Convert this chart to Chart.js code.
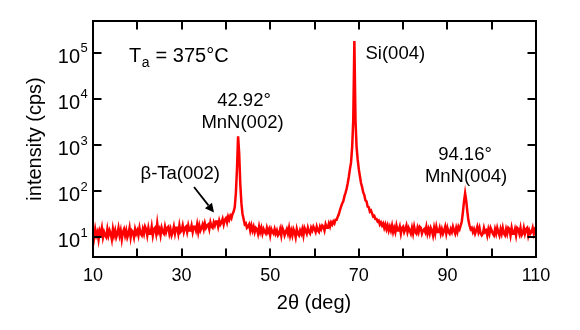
<!DOCTYPE html>
<html>
<head>
<meta charset="utf-8">
<script src="https://cdn.jsdelivr.net/npm/chart.js@4/dist/chart.umd.min.js"></script>
<style>
html,body{margin:0;padding:0;background:#fff;}
#wrap{width:580px;height:330px;position:relative;}
</style>
</head>
<body>
<div id="wrap"><canvas id="c" width="580" height="330"></canvas></div>
<script>
// 2theta sampling grid (deg)
const twoThetaStart = 10;
const twoThetaStep = 0.25;
// measured intensity (cps), one value per grid point, 10 .. 110 deg
const intensity = [
/*10*/ 14,10,15,11, /*11*/ 13,9,14,12, /*12*/ 16,10,13,11, /*13*/ 10,15,11,14,
/*14*/ 12,9,15,11, /*15*/ 14,10,12,16, /*16*/ 11,14,9,13, /*17*/ 15,11,14,10,
/*18*/ 12,16,10,14, /*19*/ 13,10,15,12, /*20*/ 14,11,16,12, /*21*/ 11,15,12,17,
/*22*/ 15,11,16,12, /*23*/ 12,17,11,15, /*24*/ 16,12,20,13, /*25*/ 15,11,16,13,
/*26*/ 12,17,13,16, /*27*/ 17,12,15,11, /*28*/ 13,17,12,16, /*29*/ 16,12,18,13,
/*30*/ 14,18,13,16, /*31*/ 17,13,18,14, /*32*/ 14,18,13,17, /*33*/ 17,14,19,13,
/*34*/ 18,14,16,19, /*35*/ 15,20,16,18, /*36*/ 19,15,21,17, /*37*/ 16,21,18,22,
/*38*/ 22,17,23,19, /*39*/ 21,25,19,24, /*40*/ 26,21,28,24, /*41*/ 29,26,32,36,
/*42*/ 45,90,300,1550, /*43*/ 650,140,55,32, /*44*/ 25,19,20,16, /*45*/ 17,19,14,18,
/*46*/ 14,17,13,16, /*47*/ 15,12,17,13, /*48*/ 16,12,15,13, /*49*/ 12,16,13,15,
/*50*/ 11,15,13,12, /*51*/ 15,12,14,11, /*52*/ 12,15,11,16, /*53*/ 14,11,13,15,
/*54*/ 12,16,11,14, /*55*/ 11,15,13,10, /*56*/ 15,12,11,14, /*57*/ 12,15,11,16,
/*58*/ 14,12,16,13, /*59*/ 12,16,14,17, /*60*/ 15,13,17,14, /*61*/ 13,17,15,18,
/*62*/ 17,14,19,16, /*63*/ 16,20,17,21, /*64*/ 19,22,20,24, /*65*/ 24,28,32,39,
/*66*/ 46,54,60,77, /*67*/ 92,113,148,205, /*68*/ 300,420,900,3500, /*69*/ 180000,3500,900,480,
/*70*/ 300,210,150,122, /*71*/ 94,82,63,60, /*72*/ 46,45,36,38, /*73*/ 33,28,29,25,
/*74*/ 25,22,23,19, /*75*/ 21,18,20,16, /*76*/ 19,15,18,14, /*77*/ 17,14,18,13,
/*78*/ 16,13,18,14, /*79*/ 14,17,12,16, /*80*/ 17,13,15,18, /*81*/ 13,16,14,12,
/*82*/ 16,12,17,13, /*83*/ 12,16,13,17, /*84*/ 16,12,14,15, /*85*/ 13,17,12,15,
/*86*/ 12,16,14,11, /*87*/ 16,12,17,13, /*88*/ 13,16,12,15, /*89*/ 12,14,17,12,
/*90*/ 16,13,12,15, /*91*/ 13,17,14,12, /*92*/ 16,13,17,15, /*93*/ 18,22,35,60,
/*94*/ 90,62,36,23, /*95*/ 18,15,16,13, /*96*/ 15,12,14,17, /*97*/ 13,16,12,11,
/*98*/ 12,16,13,14, /*99*/ 11,15,12,16, /*100*/ 14,12,11,15, /*101*/ 12,16,13,11,
/*102*/ 15,12,16,12, /*103*/ 11,15,12,16, /*104*/ 15,11,16,12, /*105*/ 12,15,11,16,
/*106*/ 15,12,16,11, /*107*/ 12,16,12,15, /*108*/ 16,11,14,12, /*109*/ 13,16,12,15,
/*110*/ 14
];
const xTickLabels = ['10','30','50','70','90','110'];
const xTickValues = [10,30,50,70,90,110];
const xMinorTicks = [20,40,60,80,100];
const yDecadeExponents = ['1','2','3','4','5'];

const points = intensity.map((v,i)=>({x: twoThetaStart + i*twoThetaStep, y: v}));

const FONT = '"Liberation Sans", Arial, Helvetica, sans-serif';

const framePlugin = {
  id: 'frame',
  afterDraw(chart){
    const ctx = chart.ctx, a = chart.chartArea;
    const xs = chart.scales.x, ys = chart.scales.y;
    ctx.save();
    ctx.strokeStyle = '#000';
    ctx.lineWidth = 2;
    ctx.strokeRect(a.left, a.top, a.right-a.left, a.bottom-a.top);
    const tl = 8.5;
    ctx.beginPath();
    [...xTickValues, ...xMinorTicks].forEach(v=>{
      const px = Math.round(xs.getPixelForValue(v));
      ctx.moveTo(px, a.bottom); ctx.lineTo(px, a.bottom - tl);
      ctx.moveTo(px, a.top); ctx.lineTo(px, a.top + tl);
    });
    yDecadeExponents.forEach(e=>{
      const py = Math.round(ys.getPixelForValue(Math.pow(10, +e)));
      ctx.moveTo(a.left, py); ctx.lineTo(a.left + tl, py);
      ctx.moveTo(a.right, py); ctx.lineTo(a.right - tl, py);
    });
    ctx.stroke();

    ctx.fillStyle = '#000';
    // x tick labels
    ctx.font = '18px ' + FONT;
    ctx.textAlign = 'center';
    ctx.textBaseline = 'alphabetic';
    xTickValues.forEach((v,i)=>{
      ctx.fillText(xTickLabels[i], xs.getPixelForValue(v), a.bottom + 24);
    });
    // y tick labels 10^n
    yDecadeExponents.forEach(e=>{
      const py = ys.getPixelForValue(Math.pow(10, +e));
      ctx.font = '20px ' + FONT;
      ctx.textAlign = 'right';
      ctx.fillText('10', 80, py + 10);
      ctx.font = '13px ' + FONT;
      ctx.textAlign = 'left';
      ctx.fillText(e, 80.5, py - 0.5);
    });
    // axis titles
    ctx.font = '20px ' + FONT;
    ctx.textAlign = 'center';
    ctx.fillText('2\u03b8 (deg)', 314, 309);
    ctx.save();
    ctx.translate(41, (a.top + a.bottom)/2);
    ctx.rotate(-Math.PI/2);
    ctx.fillText('intensity (cps)', 0, 0);
    ctx.restore();

    // annotations
    ctx.textAlign = 'left';
    ctx.font = '20px ' + FONT;
    ctx.fillText('T', 129, 61.5);
    let w = ctx.measureText('T').width;
    ctx.font = '14px ' + FONT;
    ctx.fillText('a', 129 + w + 0.5, 67);
    let w2 = ctx.measureText('a').width;
    ctx.font = '20px ' + FONT;
    ctx.fillText(' = 375\u00b0C', 129 + w + w2 + 1, 61.5);

    ctx.font = '18.5px ' + FONT;
    ctx.fillText('Si(004)', 365.5, 58.5);
    ctx.fillText('\u03b2-Ta(002)', 140.5, 179);
    ctx.textAlign = 'center';
    ctx.fillText('42.92\u00b0', 244, 106);
    ctx.fillText('MnN(002)', 242.5, 127.5);
    ctx.fillText('94.16\u00b0', 465, 160);
    ctx.fillText('MnN(004)', 466, 182);

    // arrow
    const x1 = 194, y1 = 187, x2 = 214, y2 = 212.5;
    ctx.beginPath();
    ctx.lineWidth = 1.8;
    ctx.moveTo(x1, y1);
    const ang = Math.atan2(y2 - y1, x2 - x1);
    const hl = 9, hw = 4.5;
    const bx = x2 - hl*Math.cos(ang), by = y2 - hl*Math.sin(ang);
    ctx.lineTo(bx, by);
    ctx.stroke();
    ctx.beginPath();
    ctx.moveTo(x2, y2);
    ctx.lineTo(bx + hw*Math.sin(ang), by - hw*Math.cos(ang));
    ctx.lineTo(bx - hw*Math.sin(ang), by + hw*Math.cos(ang));
    ctx.closePath();
    ctx.fill();
    ctx.restore();
  }
};

new Chart(document.getElementById('c'), {
  type: 'line',
  data: {
    datasets: [{
      data: points,
      borderColor: '#ff0000',
      borderWidth: 2.5,
      pointRadius: 0,
      tension: 0,
      fill: false
    }]
  },
  options: {
    responsive: false,
    animation: false,
    events: [],
    layout: { padding: { top: 21, right: 44, left: 0, bottom: 0 } },
    plugins: { legend: { display: false }, tooltip: { enabled: false } },
    scales: {
      x: {
        type: 'linear', min: 10, max: 110,
        grid: { display: false, drawTicks: false },
        border: { display: false },
        ticks: { display: false },
        afterFit(s){ s.height = 73; }
      },
      y: {
        type: 'logarithmic', min: 3.74, max: 4.87e5,
        grid: { display: false, drawTicks: false },
        border: { display: false },
        ticks: { display: false },
        afterFit(s){ s.width = 93; }
      }
    }
  },
  plugins: [framePlugin]
});
</script>
</body>
</html>
